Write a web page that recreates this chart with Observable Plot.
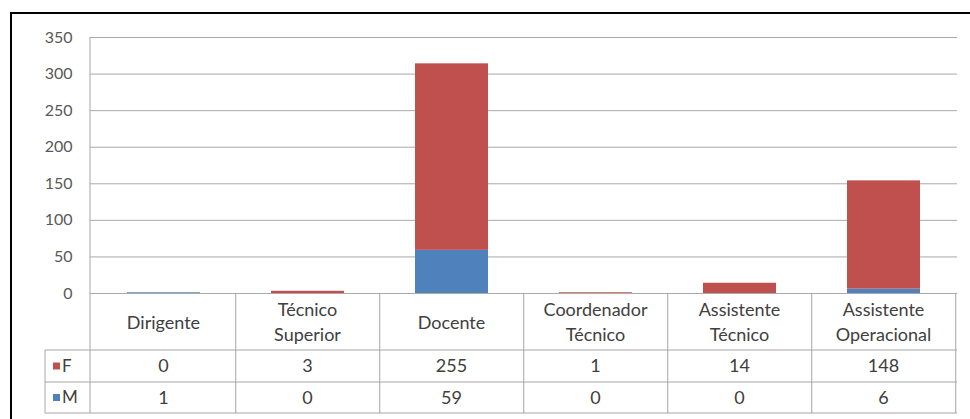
<!DOCTYPE html>
<html>
<head>
<meta charset="utf-8">
<script src="https://cdn.jsdelivr.net/npm/d3@7"></script>
<script src="https://cdn.jsdelivr.net/npm/@observablehq/plot@0.6"></script>
<style>
  body { margin: 0; background: #fff; }
  #chart_1 { width: 970px; height: 419px; overflow: hidden; }
</style>
</head>
<body>
<div id="chart_1"></div>
<script>
// dados
const categorias = ["Dirigente", "Técnico Superior", "Docente", "Coordenador Técnico", "Assistente Técnico", "Assistente Operacional"]
const rotulos = [["Dirigente"], ["Técnico", "Superior"], ["Docente"], ["Coordenador", "Técnico"], ["Assistente", "Técnico"], ["Assistente", "Operacional"]]
const feminino = [0, 3, 255, 1, 14, 148]
const masculino = [1, 0, 59, 0, 0, 6]
const series = ["F", "M"]
const cores = ["#C0504D", "#4F81BD"]
const yTicks = [0, 50, 100, 150, 200, 250, 300, 350]

// M em baixo, F em cima
const dados = categorias.flatMap((c, i) => [
  {cat: c, sexo: "M", n: masculino[i]},
  {cat: c, sexo: "F", n: feminino[i]},
])

const chart = Plot.plot({
  width: 970,
  height: 419,
  marginLeft: 90,
  marginRight: 13,
  marginTop: 37,
  marginBottom: 126,
  x: {domain: categorias, paddingInner: 0.49, paddingOuter: 0.245, axis: null},
  y: {domain: [0, 350], ticks: yTicks, tickSize: 0, tickPadding: 18, label: null},
  color: {domain: series, range: cores},
  style: {fontFamily: 'Lato', fontSize: '16px', color: '#595959', background: 'white'},
  marks: [
    Plot.ruleY(yTicks, {stroke: '#a9a9a9'}),
    Plot.barY(dados, {x: 'cat', y: 'n', fill: 'sexo'}),
  ],
})

d3.select('#chart_1').append(() => chart)

// tabela de dados por baixo do gráfico, usando a escala x do Plot
const svg = d3.select(chart)
const x = chart.scale('x')
const step = (x.range[1] - x.range[0]) / categorias.length
const left = c => x.apply(c) - (step - x.bandwidth) / 2
const xL = x.range[0], xR = x.range[1]
const y0 = 293, yHead = 350, yF = 382, yM = 413, xKey = 45
const linha = '#a6a6a6'
const g = svg.append('g').attr('stroke', linha).attr('stroke-width', 1)

g.append('line').attr('x1', xL).attr('x2', xL).attr('y1', 37).attr('y2', yM)
g.append('line').attr('x1', xKey).attr('x2', xKey).attr('y1', yHead).attr('y2', yM)
;[yHead, yF, yM].forEach(yy => g.append('line').attr('x1', xKey).attr('x2', xR).attr('y1', yy).attr('y2', yy))
categorias.forEach((c, i) => {
  const xx = left(c) + step
  g.append('line').attr('x1', xx).attr('x2', xx).attr('y1', y0).attr('y2', yM)
})

const t = svg.append('g').attr('fill', '#404040').attr('font-family', 'Lato').attr('font-size', 18)
  .attr('text-anchor', 'middle')
categorias.forEach((c, i) => {
  const cx = left(c) + step / 2
  const linhas = rotulos[i]
  linhas.forEach((l, j) => {
    t.append('text').attr('x', cx)
      .attr('y', (y0 + yHead) / 2 + 1 + (j - (linhas.length - 1) / 2) * 25)
      .attr('dy', '0.35em').text(l)
  })
  t.append('text').attr('x', cx).attr('y', (yHead + yF) / 2).attr('dy', '0.35em').text(feminino[i])
  t.append('text').attr('x', cx).attr('y', (yF + yM) / 2).attr('dy', '0.35em').text(masculino[i])
})

// legenda da tabela
;[['F', yHead, yF], ['M', yF, yM]].forEach(([s, a, b], k) => {
  const cy = (a + b) / 2
  svg.append('rect').attr('x', 53).attr('y', cy - 3.5).attr('width', 7).attr('height', 7).attr('fill', cores[k])
  svg.append('text').attr('x', 62).attr('y', cy).attr('dy', '0.35em').attr('text-anchor', 'start')
    .attr('font-family', 'Lato').attr('font-size', 17).attr('fill', '#404040').text(s)
})

// moldura exterior
svg.append('path').attr('d', 'M11,419V13H970').attr('fill', 'none').attr('stroke', '#000').attr('stroke-width', 2)
</script>
</body>
</html>
